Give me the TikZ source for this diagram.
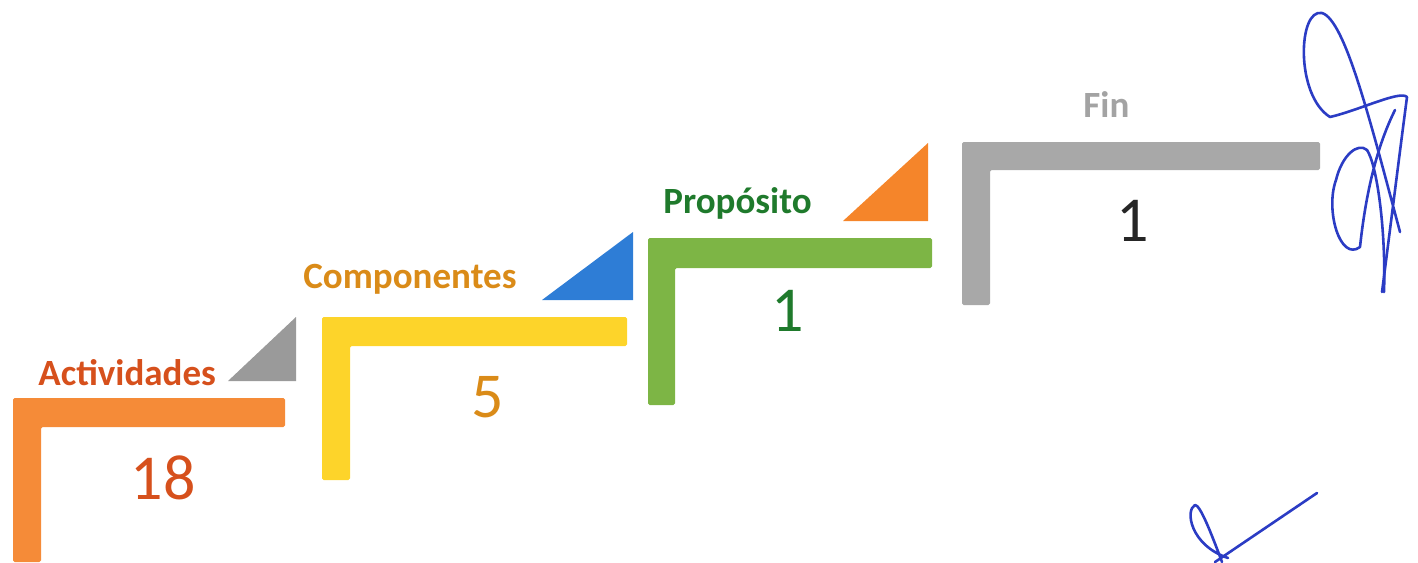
\documentclass[tikz,border=0pt]{standalone}
\usepackage{fontspec}
\setmainfont{Carlito}
\usetikzlibrary{positioning}
\definecolor{colorac}{HTML}{F58B38}
\definecolor{colorco}{HTML}{FDD42A}
\definecolor{colorpr}{HTML}{7DB545}
\definecolor{colorfi}{HTML}{A8A8A8}
\definecolor{textac}{HTML}{D6501C}
\definecolor{textco}{HTML}{DA8B18}
\definecolor{textpr}{HTML}{1F7A2C}
\definecolor{textfi}{HTML}{A3A3A3}
\definecolor{trigray}{HTML}{9A9A9A}
\definecolor{triblue}{HTML}{2E7DD6}
\definecolor{triorange}{HTML}{F5852A}
\definecolor{colorsig}{HTML}{2B3CC4}
\tikzset{
  stepbar/.style={fill=#1, draw=none, rounded corners=0.8pt},
  corner/.style={fill=#1, draw=none},
  steplabel/.style={font=\fontsize{18.5}{18.5}\selectfont\bfseries, anchor=base west, inner sep=0pt},
  stepnum/.style={font=\fontsize{32}{32}\selectfont, inner sep=0pt},
  signature/.style={colorsig, line width=1.3pt, line cap=round, line join=round}
}

\begin{document}
\begin{tikzpicture}[x=0.5pt, y=-0.5pt]
\useasboundingbox (0,0) rectangle (1418,562);
% steps
\fill[stepbar=colorac] (13,398) -- (285,398) -- (285,427) -- (41,427) -- (41,562) -- (13,562) -- cycle;
\fill[stepbar=colorco] (322,317) -- (627,317) -- (627,346) -- (350,346) -- (350,480) -- (322,480) -- cycle;
\fill[stepbar=colorpr] (648,238) -- (932,238) -- (932,268) -- (675,268) -- (675,405) -- (648,405) -- cycle;
\fill[stepbar=colorfi] (962,142) -- (1320,142) -- (1320,170) -- (990,170) -- (990,305) -- (962,305) -- cycle;
% corners
\fill[corner=trigray] (228,381) -- (296,317) -- (296,381) -- cycle;
\fill[corner=triblue] (542,300) -- (633,232) -- (633,300) -- cycle;
\fill[corner=triorange] (843,221) -- (928,143) -- (928,221) -- cycle;
% labels
\node[steplabel, textac] (act) at (38,385) {Actividades};
\node[steplabel, textco] (com) at (303,288) {Componentes};
\node[steplabel, textpr] (pro) at (663,213) {Propósito};
\node[steplabel, textfi] (fin) at (1083,117) {Fin};
\node[stepnum, textac] (nact) at (163,478) {18};
\node[stepnum, textco] (ncom) at (488,397) {5};
\node[stepnum, textpr] (npro) at (788,311) {1};
\node[stepnum, black!85] (nfin) at (1133,221) {1};
% signature
\draw[signature] (1400,232) .. controls (1370,120) and (1345,20) .. (1322,13)
  .. controls (1298,8) and (1295,95) .. (1330,117)
  .. controls (1360,110) and (1400,90) .. (1407,97)
  .. controls (1400,150) and (1390,230) .. (1382,292);
\draw[signature] (1395,110) .. controls (1375,150) and (1365,200) .. (1360,247)
  .. controls (1340,262) and (1325,210) .. (1336,180)
  .. controls (1342,155) and (1358,142) .. (1367,150)
  .. controls (1377,165) and (1386,230) .. (1384,292);
\draw[signature] (1222,562) .. controls (1210,530) and (1200,505) .. (1195,505)
  .. controls (1185,510) and (1190,545) .. (1228,558);
\draw[signature] (1215,562) -- (1317,493);
\end{tikzpicture}
\end{document}
